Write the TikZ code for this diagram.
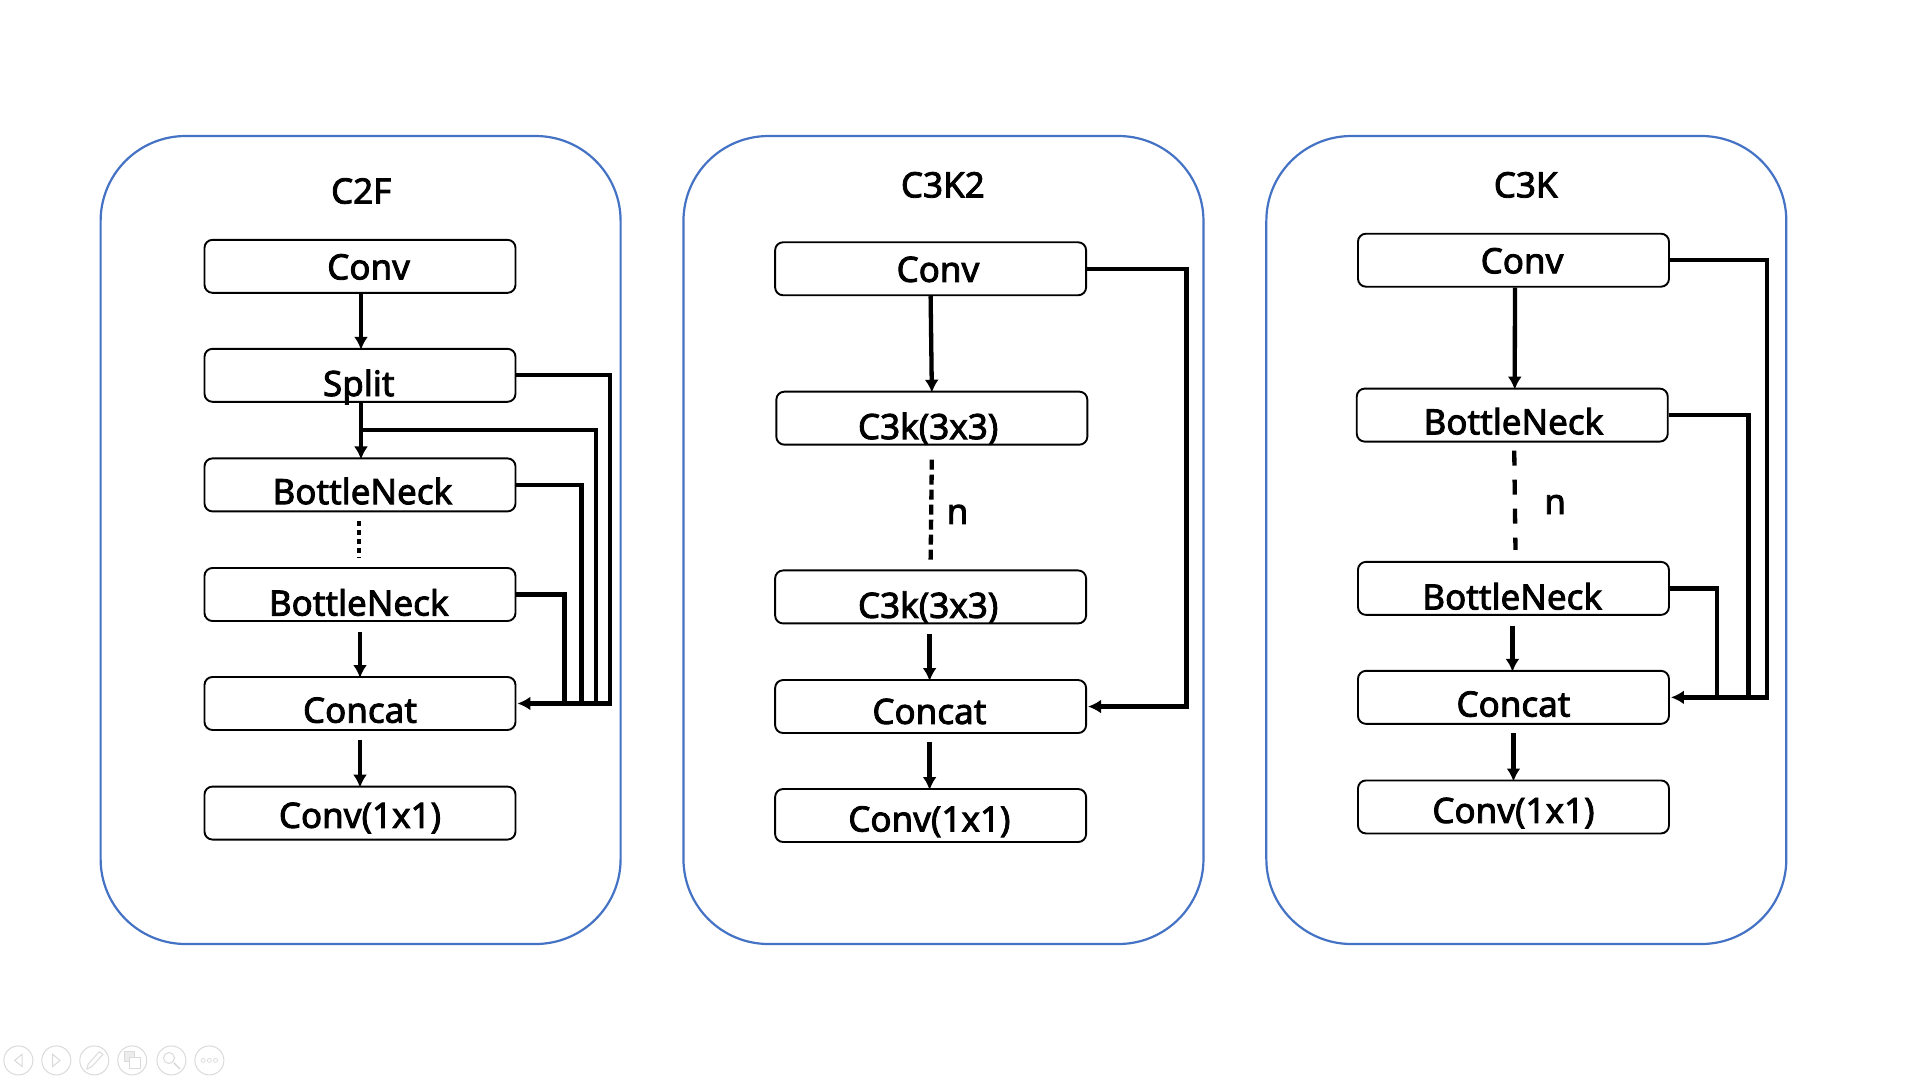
\documentclass[tikz,border=0pt]{standalone}
\usepackage{fontspec}
\setmainfont{Noto Sans}[FakeBold=2.4]
\usetikzlibrary{positioning,arrows.meta}
\definecolor{panelblue}{RGB}{68,114,196}
\definecolor{toolgrey}{RGB}{218,218,218}
\tikzset{
  panelbox/.style={draw=panelblue,line width=2.2pt,rounded corners=85pt,minimum width=520pt,minimum height=808pt},
  blockbox/.style={draw=black,line width=1.9pt,rounded corners=8pt,minimum width=311pt,minimum height=53pt},
  blocktext/.style={font=\fontsize{35}{35}\selectfont,inner sep=0pt},
  flow/.style={line width=4.3pt,-{Latex[length=13pt,width=14pt]},shorten >=-2pt},
  sideflow/.style={line width=4.3pt,-{Latex[length=13pt,width=14pt]},shorten >=1pt},
  joinline/.style={line width=4.3pt},
  dotline/.style={line width=4.3pt,dash pattern=on 4.5pt off 4.5pt},
  dashlineB/.style={line width=4.3pt,dash pattern=on 10pt off 5pt},
  dashlineC/.style={line width=4.3pt,dash pattern=on 15pt off 14pt},
  toolbtn/.style={circle,draw=toolgrey,line width=1pt,minimum size=29pt,inner sep=0pt},
  toolmark/.style={draw=toolgrey,line width=1pt}
}
\begin{document}
\begin{tikzpicture}[x=1.2245pt,y=-1.2245pt]
\useasboundingbox (0,0) rectangle (1568,882);

% Panels
\node[panelbox] (panelA) at (294.5,441) {};
\node[panelbox] (panelB) at (770.5,441) {};
\node[panelbox] (panelC) at (1246.5,441) {};
\node[blocktext] (titleA) at (295,156) {C2F};
\node[blocktext] (titleB) at (770,151) {C3K2};
\node[blocktext] (titleC) at (1246,151) {C3K};

% C2F blocks
\node[blockbox] (aconv) at (294,217.5) {};
\node[blockbox] (asplit) at (294,306.5) {};
\node[blockbox] (abneckA) at (294,396) {};
\node[blockbox] (abneckB) at (294,485.5) {};
\node[blockbox] (aconcat) at (294,574.5) {};
\node[blockbox] (aout) at (294,664) {};
\node[blocktext] (aconvT) at (301,218) {Conv};
\node[blocktext] (asplitT) at (293,316) {Split};
\node[blocktext] (abneckAT) at (296,401) {BottleNeck};
\node[blocktext] (abneckBT) at (293,492) {BottleNeck};
\node[blocktext] (aconcatT) at (294,580) {Concat};
\node[blocktext] (aoutT) at (294,668) {Conv(1x1)};

% C3K2 blocks
\node[blockbox] (bconv) at (760,219.5) {};
\node[blockbox] (bcA) at (761,341.5) {};
\node[blockbox] (bcB) at (760,487.5) {};
\node[blockbox] (bconcat) at (760,577) {};
\node[blockbox] (bout) at (760,666) {};
\node[blocktext] (bconvT) at (766,220) {Conv};
\node[blocktext] (bcAT) at (758,350) {C3k(3x3)};
\node[blocktext] (bcBT) at (758,496) {C3k(3x3)};
\node[blocktext] (bconcatT) at (759,581) {Concat};
\node[blocktext] (boutT) at (759,671) {Conv(1x1)};
\node[blocktext] (bn) at (782,420) {n};

% C3K blocks
\node[blockbox] (cconv) at (1236,212.5) {};
\node[blockbox] (cbneckA) at (1235,339) {};
\node[blockbox] (cbneckB) at (1236,480.5) {};
\node[blockbox] (cconcat) at (1236,569.5) {};
\node[blockbox] (cout) at (1236,659) {};
\node[blocktext] (cconvT) at (1243,213) {Conv};
\node[blocktext] (cbneckAT) at (1236,344) {BottleNeck};
\node[blocktext] (cbneckBT) at (1235,487) {BottleNeck};
\node[blocktext] (cconcatT) at (1236,575) {Concat};
\node[blocktext] (coutT) at (1236,664) {Conv(1x1)};
\node[blocktext] (cn) at (1270,412) {n};

% C2F connectors
\coordinate[below=27pt of asplit.south,xshift=1pt] (atap);
\coordinate (arailA) at (461,0);
\coordinate (arailB) at (475,0);
\coordinate (arailC) at (487,0);
\coordinate (arailD) at (498,0);
\draw[flow] ([xshift=1pt]aconv.south) -- ([xshift=1pt]asplit.north);
\draw[flow] ([xshift=1pt]asplit.south) -- ([xshift=1pt]abneckA.north);
\draw[joinline] (atap) -| (arailC |- aconcat.east);
\draw[joinline] (abneckA.east) -| (arailB |- aconcat.east);
\draw[joinline] (abneckB.east) -| (arailA |- aconcat.east);
\draw[sideflow] (asplit.east) -| (arailD |- aconcat.east) -- (aconcat.east);
\draw[dotline] ([xshift=-1pt,yshift=-9pt]abneckA.south) -- ([xshift=-1pt,yshift=9pt]abneckB.north);
\draw[flow] ([yshift=-10pt]abneckB.south) -- (aconcat.north);
\draw[flow] ([yshift=-9pt]aconcat.south) -- (aout.north);

% C3K2 connectors
\coordinate (brail) at (969,0);
\draw[flow] (bconv.south) -- (bcA.north);
\draw[dashlineB] ([yshift=-14pt]bcA.south) -- ([yshift=9pt]bcB.north);
\draw[flow] ([xshift=-1pt,yshift=-10pt]bcB.south) -- ([xshift=-1pt]bconcat.north);
\draw[flow] ([xshift=-1pt,yshift=-8pt]bconcat.south) -- ([xshift=-1pt]bout.north);
\draw[sideflow] (bconv.east) -| (brail |- bconcat.east) -- (bconcat.east);

% C3K connectors
\coordinate (crailA) at (1402,0);
\coordinate (crailB) at (1428,0);
\coordinate (crailC) at (1443,0);
\draw[flow] ([xshift=1.5pt]cconv.south) -- ([xshift=2.5pt]cbneckA.north);
\draw[dashlineC] ([xshift=2pt,yshift=-8pt]cbneckA.south) -- ([xshift=2pt,yshift=11pt]cbneckB.north);
\draw[flow] ([xshift=-1pt,yshift=-10pt]cbneckB.south) -- ([xshift=-1pt]cconcat.north);
\draw[flow] ([yshift=-8pt]cconcat.south) -- (cout.north);
\draw[joinline] (cbneckA.east) -| (crailB |- cconcat.east);
\draw[joinline] (cbneckB.east) -| (crailA |- cconcat.east);
\draw[sideflow] (cconv.east) -| (crailC |- cconcat.east) -- (cconcat.east);

% Slide show buttons
\foreach \i/\xpos in {1/15,2/46,3/77,4/108,5/140,6/171}
  \node[toolbtn] (btn\i) at (\xpos,866) {};
\draw[toolmark] ([shift={(3,-5)}]btn1.center) -- ([shift={(-3,0)}]btn1.center) -- ([shift={(3,5)}]btn1.center) -- cycle;
\draw[toolmark] ([shift={(-3,-5)}]btn2.center) -- ([shift={(3,0)}]btn2.center) -- ([shift={(-3,5)}]btn2.center) -- cycle;
\draw[toolmark] ([shift={(-6,7)}]btn3.center) -- ([shift={(-5,3)}]btn3.center) -- ([shift={(4,-7)}]btn3.center) -- ([shift={(7,-5)}]btn3.center) -- ([shift={(-2,5)}]btn3.center) -- cycle;
\draw[toolmark,fill=toolgrey!50] ([shift={(-6,-7)}]btn4.center) rectangle ([shift={(2,1)}]btn4.center);
\draw[toolmark,fill=white] ([shift={(-2,-2)}]btn4.center) rectangle ([shift={(7,7)}]btn4.center);
\draw[toolmark] ([shift={(-2,-2)}]btn5.center) circle[radius=5.5pt];
\draw[toolmark,line width=1.6pt] ([shift={(2,2)}]btn5.center) -- ([shift={(7,7)}]btn5.center);
\foreach \dx in {-5,0,5}
  \draw[toolmark,line width=0.7pt] ([shift={(\dx,0)}]btn6.center) circle[radius=2pt];
\end{tikzpicture}
\end{document}
